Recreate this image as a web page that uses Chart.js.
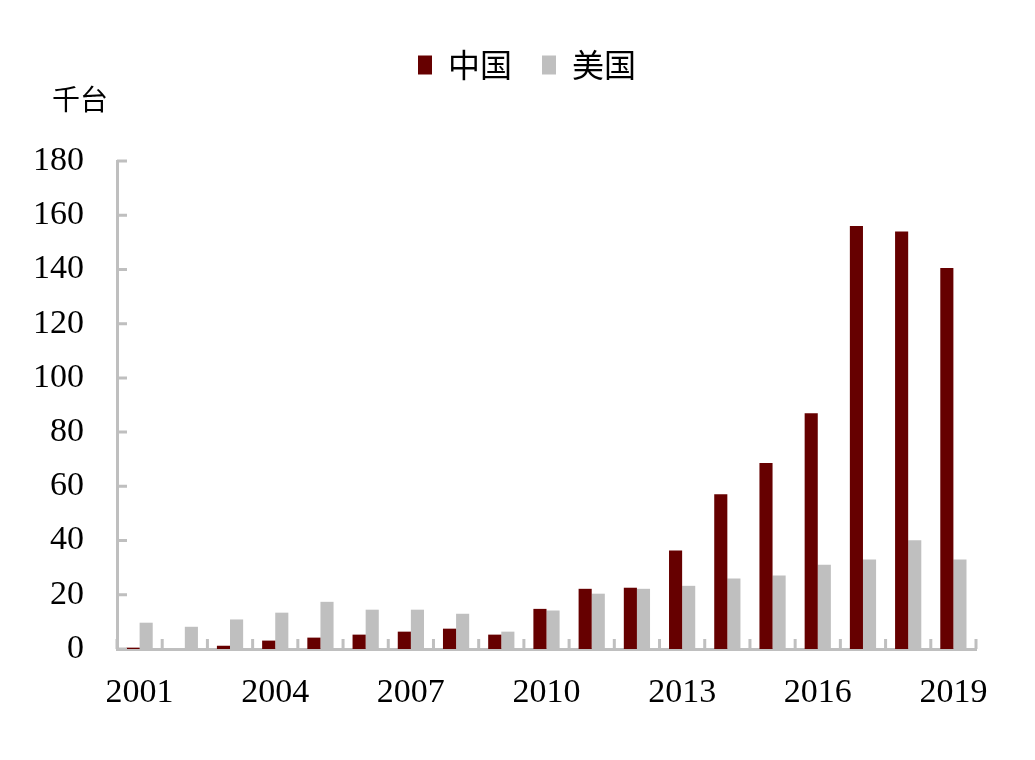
<!DOCTYPE html>
<html>
<head>
<meta charset="utf-8">
<script src="https://cdn.jsdelivr.net/npm/chart.js@4/dist/chart.umd.min.js"></script>
<style>
  html, body { margin: 0; padding: 0; background: #fff; }
</style>
</head>
<body>
<canvas id="robotChart" width="1035" height="760"></canvas>
<script>
var years = ['2001', '2002', '2003', '2004', '2005', '2006', '2007', '2008', '2009', '2010',
             '2011', '2012', '2013', '2014', '2015', '2016', '2017', '2018', '2019'];
var chinaValues = [0.5, 0, 1.2, 3.1, 4.2, 5.3, 6.4, 7.5, 5.3, 14.8,
                   22.2, 22.6, 36.3, 57.1, 68.6, 87.0, 156.0, 154.0, 140.5];
var usValues = [9.7, 8.2, 10.9, 13.4, 17.4, 14.5, 14.5, 13.0, 6.4, 14.2,
                20.4, 22.2, 23.3, 26.0, 27.1, 31.1, 33.0, 40.1, 33.0];
var yTicks = [0, 20, 40, 60, 80, 100, 120, 140, 160, 180];
var unitLabel = '千台';

var axisGray = '#bfbfbf';
var numFont = 'Liberation Serif, Times New Roman, serif';
var cjkFont = 'Noto Sans CJK SC, sans-serif';

// short tick marks pointing into the plot, like the original
var innerTicks = {
    id: 'innerTicks',
    afterLayout: function (chart) {
        // nudge legend and unit label sideways to where the original has them
        chart.legend.left += 24;
        chart.legend.right += 24;
        chart.titleBlock.left += 22;
        chart.titleBlock.right += 22;
    },
    afterDatasetsDraw: function (chart) {
        var ctx = chart.ctx;
        var x = chart.scales.x;
        var y = chart.scales.y;
        ctx.save();
        ctx.strokeStyle = axisGray;
        ctx.lineWidth = 3;
        ctx.beginPath();
        var bounds = [x.left];
        for (var i = 1; i < years.length; i++) {
            bounds.push((x.getPixelForValue(i - 1) + x.getPixelForValue(i)) / 2);
        }
        bounds.push(x.right);
        for (var j = 0; j < bounds.length; j++) {
            ctx.moveTo(bounds[j], y.bottom);
            ctx.lineTo(bounds[j], y.bottom - 10);
        }
        for (var k = 0; k < yTicks.length; k++) {
            var py = y.getPixelForValue(yTicks[k]);
            ctx.moveTo(x.left, py);
            ctx.lineTo(x.left + 10, py);
        }
        ctx.stroke();
        ctx.restore();
    }
};

var ctx = document.getElementById('robotChart');
var robotChart = new Chart(ctx, {
    type: 'bar',
    data: {
        labels: years,
        datasets: [
            {
                label: '中国',
                data: chinaValues,
                backgroundColor: '#660000',
                categoryPercentage: 0.58,
                barPercentage: 1.0
            },
            {
                label: '美国',
                data: usValues,
                backgroundColor: '#bfbfbf',
                categoryPercentage: 0.58,
                barPercentage: 1.0
            }
        ]
    },
    options: {
        responsive: false,
        animation: false,
        devicePixelRatio: 1,
        layout: {
            padding: { top: 19, left: 30, right: 59, bottom: 0 }
        },
        plugins: {
            tooltip: { enabled: false },
            legend: {
                position: 'top',
                labels: {
                    color: '#000',
                    font: { family: cjkFont, size: 32 },
                    boxWidth: 14,
                    boxHeight: 19,
                    padding: 30
                }
            },
            title: {
                display: true,
                text: unitLabel,
                align: 'start',
                weight: 500,
                color: '#000',
                font: { family: cjkFont, size: 28, weight: 'normal', lineHeight: '4px' },
                padding: { top: 6, bottom: 60 }
            }
        },
        scales: {
            x: {
                grid: { display: false, drawTicks: false },
                border: { color: axisGray, width: 3 },
                ticks: {
                    autoSkip: false,
                    maxRotation: 0,
                    color: '#000',
                    padding: 24,
                    font: { family: numFont, size: 34 },
                    callback: function (value, index) {
                        return index % 3 === 0 ? years[index] : '';
                    }
                },
                afterFit: function (scale) { scale.height = 111; }
            },
            y: {
                min: 0,
                max: 180,
                grid: { display: false, drawTicks: false },
                border: { color: axisGray, width: 3 },
                ticks: {
                    stepSize: 20,
                    color: '#000',
                    padding: 33,
                    font: { family: numFont, size: 34 }
                },
                afterFit: function (scale) { scale.width = 87; }
            }
        }
    },
    plugins: [innerTicks]
});
</script>
</body>
</html>
